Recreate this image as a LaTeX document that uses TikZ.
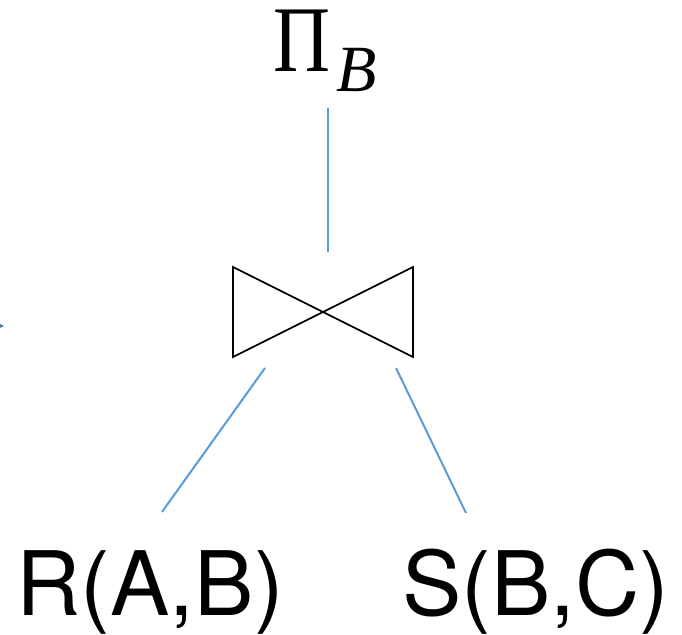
\documentclass[tikz,border=0pt]{standalone}
\usepackage{fontspec}
\setmainfont{TeX Gyre Heros}
\newfontfamily\seriffont{Liberation Serif}
\definecolor{edgeblue}{RGB}{91,155,213}
\definecolor{tipblue}{RGB}{70,125,185}
\begin{document}
\begin{tikzpicture}[x=1pt,y=1pt,
  edge/.style={draw=edgeblue, line width=2pt},
  bowtie/.style={draw=black, line width=1.6pt, line join=miter},
  rel/.style={inner sep=0pt, anchor=base, font=\fontsize{89}{89}\selectfont}]
\useasboundingbox (0,0) rectangle (682,634);
% Projection
\node[inner sep=0pt, anchor=base west] (proj) at (273,562)
  {\seriffont\fontsize{94}{94}\selectfont\scalebox{0.84}[1]{Π}\kern6pt\raisebox{-20pt}{\fontsize{66}{66}\selectfont\itshape B}};
% join (bowtie)
\coordinate (jc) at (323,322);
\draw[bowtie] (233,367) -- (233,277) -- (413,367) -- (413,277) -- cycle;
\coordinate (jtop) at (328,382);
\coordinate (jl) at (265,266);
\coordinate (jr) at (396,266);
\coordinate (ptop) at (328,526);
% relations
\node[rel] (R) at (150,19) {R(A,B)};
\node[rel] (S) at (536,19) {S(B,C)};
\coordinate (Rt) at (162,122);
\coordinate (St) at (466,121);
% edges
\draw[edge] (ptop) -- (jtop);
\draw[edge] (jl) -- (Rt);
\draw[edge] (jr) -- (St);
% partial arrow tip at left edge
\fill[tipblue] (-6,313) -- (4,308) -- (-6,303) -- cycle;
\end{tikzpicture}
\end{document}
